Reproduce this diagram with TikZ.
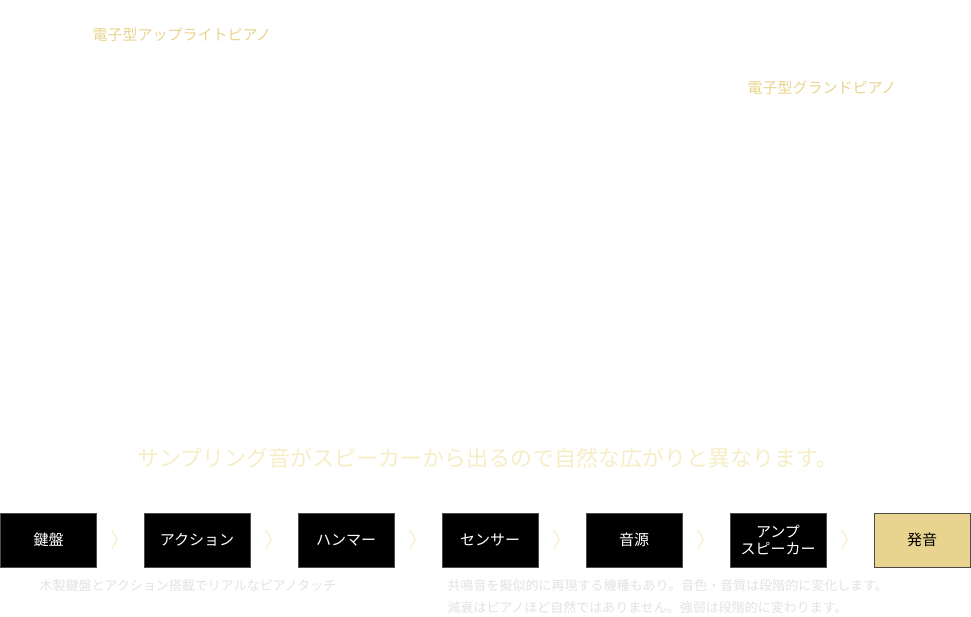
\documentclass[tikz,border=0pt]{standalone}
\usepackage{fontspec}
\setmainfont{Noto Sans CJK JP}
\usepackage{tikz}
\usetikzlibrary{positioning}
\definecolor{gold}{HTML}{E8D48E}
\definecolor{pale}{HTML}{F6EDC6}
\definecolor{lightgray}{HTML}{E2E2E2}

\begin{document}
\begin{tikzpicture}[x=1pt,y=-1pt]
	\useasboundingbox (0,0) rectangle (971,616);
	\tikzset{stage/.style={draw=black!70, fill=black, text=white, minimum width=96pt, minimum height=54pt, inner sep=0pt, align=center, font=\fontsize{15}{17}\selectfont},
		chev/.style={text=pale, font=\fontsize{20}{20}\selectfont}}
	
	\node[text=gold, anchor=west, font=\fontsize{15}{15}\selectfont] (U) at (89,35) {電子型アップライトピアノ};
	\node[text=gold, anchor=west, font=\fontsize{15}{15}\selectfont] (G) at (744,88) {電子型グランドピアノ};
	\node[text=pale, font=\fontsize{22}{22}\selectfont] (T) at (488,458) {サンプリング音がスピーカーから出るので自然な広がりと異なります。};
	
	\node[stage] (A) at (48.5,540) {鍵盤};
	\node[stage, minimum width=106pt] (B) at (197,540) {アクション};
	\node[stage] (C) at (346,540) {ハンマー};
	\node[stage] (D) at (490,540) {センサー};
	\node[stage] (E) at (634,540) {音源};
	\node[stage] (F) at (778,540) {アンプ\\スピーカー};
	\node[stage, fill=gold, text=black] (H) at (922,540) {発音};
	
	\node[chev] (c1) at (120,540) {〉};
	\node[chev] (c2) at (274,540) {〉};
	\node[chev] (c3) at (418,540) {〉};
	\node[chev] (c4) at (562,540) {〉};
	\node[chev] (c5) at (706,540) {〉};
	\node[chev] (c6) at (850,540) {〉};
	
	\node[text=lightgray, anchor=west, font=\fontsize{13}{13}\selectfont] (K) at (36,586) {木製鍵盤とアクション搭載でリアルなピアノタッチ};
	\node[text=lightgray, anchor=west, font=\fontsize{13}{13}\selectfont] (S1) at (444,586) {共鳴音を擬似的に再現する機種もあり。音色・音質は段階的に変化します。};
	\node[text=lightgray, anchor=west, font=\fontsize{13}{13}\selectfont] (S2) at (444,608) {減衰はピアノほど自然ではありません。強弱は段階的に変わります。};
\end{tikzpicture}
\end{document}
